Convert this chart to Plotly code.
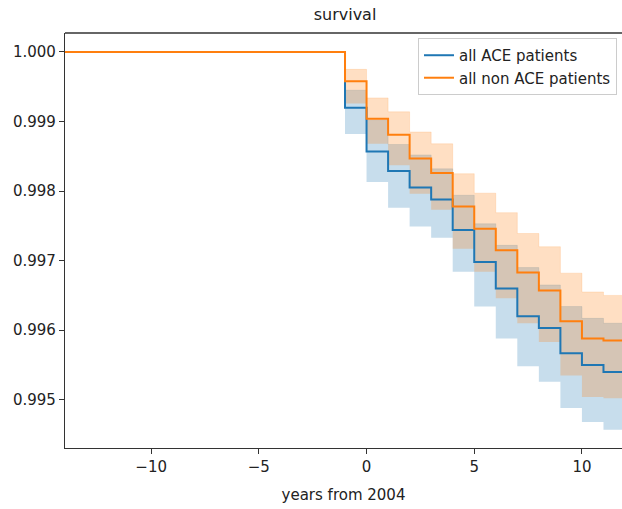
import plotly.graph_objects as go

# Time grid (years from 2004)
ace_times = [-6, -1, 0, 1, 2, 3, 4, 5, 6, 7, 8, 9, 10, 11, 12]
non_times = [-14, -1, 0, 1, 2, 3, 4, 5, 6, 7, 8, 9, 10, 11, 12]

ace_surv = [1.0, 0.99920, 0.99857, 0.99829, 0.99805, 0.99788, 0.99744, 0.99698,
            0.99660, 0.99620, 0.99603, 0.99567, 0.99550, 0.99540, 0.99540]
ace_lo = [1.0, 0.99882, 0.99813, 0.99776, 0.99749, 0.99733, 0.99684, 0.99634,
          0.99588, 0.99548, 0.99526, 0.99488, 0.99468, 0.99457, 0.99457]
ace_hi = [1.0, 0.99945, 0.99902, 0.99867, 0.99852, 0.99832, 0.99794, 0.99753,
          0.99722, 0.99690, 0.99665, 0.99634, 0.99617, 0.99610, 0.99610]

non_surv = [1.0, 0.99958, 0.99904, 0.99881, 0.99847, 0.99826, 0.99778, 0.99746,
            0.99715, 0.99683, 0.99657, 0.99613, 0.99588, 0.99585, 0.99585]
non_lo = [1.0, 0.99926, 0.99868, 0.99837, 0.99796, 0.99773, 0.99717, 0.99684,
          0.99646, 0.99610, 0.99583, 0.99535, 0.99504, 0.99502, 0.99502]
non_hi = [1.0, 0.99975, 0.99934, 0.99914, 0.99885, 0.99868, 0.99825, 0.99797,
          0.99769, 0.99739, 0.99720, 0.99682, 0.99655, 0.99650, 0.99650]

y_ticks = [0.995, 0.996, 0.997, 0.998, 0.999, 1.000]
x_ticks = [-10, -5, 0, 5, 10]

BLUE = "#1f77b4"
ORANGE = "#ff7f0e"
FONT = "DejaVu Sans"

fig = go.Figure()


def add_band(times, lo, hi, fill):
    fig.add_trace(go.Scatter(x=times, y=lo, mode="lines", line=dict(color="rgba(0,0,0,0)", width=0, shape="hv"),
                             showlegend=False, hoverinfo="skip"))
    fig.add_trace(go.Scatter(x=times, y=hi, mode="lines", line=dict(color=fill, width=0.6, shape="hv"),
                             fill="tonexty", fillcolor=fill, showlegend=False, hoverinfo="skip"))


def add_line(times, surv, color, name):
    fig.add_trace(go.Scatter(x=times, y=surv, mode="lines", line=dict(color=color, width=2, shape="hv"),
                             name=name, showlegend=True, hoverinfo="skip"))


add_band(ace_times, ace_lo, ace_hi, "rgba(31,119,180,0.25)")
add_band(non_times, non_lo, non_hi, "rgba(255,127,14,0.25)")
add_line(ace_times, ace_surv, BLUE, "all ACE patients")
add_line(non_times, non_surv, ORANGE, "all non ACE patients")

fig.update_layout(
    width=622, height=509,
    margin=dict(l=65, r=0, t=33, b=61, autoexpand=False),
    paper_bgcolor="white", plot_bgcolor="white",
    font=dict(family=FONT, size=15, color="#222"),
    title=dict(text="survival", x=(65 + 625) / 2 / 622, xanchor="center", y=1 - 14 / 509, yanchor="middle",
               font=dict(family=FONT, size=16, color="#222")),
    legend=dict(x=0.991, y=0.988, xanchor="right", yanchor="top", bgcolor="rgba(255,255,255,0.8)",
                bordercolor="#cccccc", borderwidth=1, font=dict(family=FONT, size=15, color="#222"),
                itemwidth=30, tracegroupgap=0, traceorder="normal"),
    showlegend=True,
)

fig.update_xaxes(range=[-14.0, 11.86], tickvals=x_ticks, ticktext=["\u221210", "\u22125", "0", "5", "10"],
                 showgrid=False, zeroline=False, showline=True, linecolor="#333", linewidth=1.3,
                 ticks="outside", ticklen=5, tickwidth=1.2, tickcolor="#333",
                 tickfont=dict(family=FONT, size=15, color="#222"),
                 title=dict(text="years from 2004", standoff=14, font=dict(family=FONT, size=15, color="#222")))
fig.update_yaxes(range=[0.994306, 1.000273], tickvals=y_ticks, ticktext=[f"{v:.3f}" for v in y_ticks],
                 showgrid=False, zeroline=False, showline=True, linecolor="#333", linewidth=1.3,
                 ticks="outside", ticklen=5, tickwidth=1.2, tickcolor="#333",
                 tickfont=dict(family=FONT, size=15, color="#222"))

fig.add_shape(type="line", xref="paper", yref="paper", x0=0, x1=1, y0=1, y1=1,
              line=dict(color="#333", width=1.3))

fig.write_html("out.html", config={"displayModeBar": False},
               post_script="document.body.style.margin='0';document.body.style.overflow='hidden';")
